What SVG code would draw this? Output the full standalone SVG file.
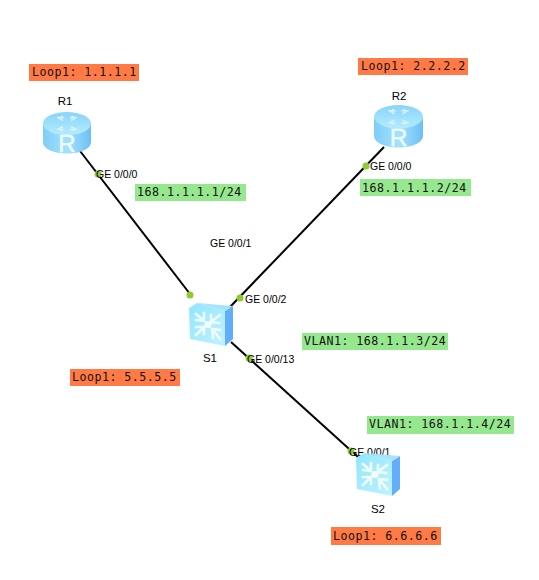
<svg xmlns="http://www.w3.org/2000/svg" width="539" height="580" viewBox="0 0 539 580">
<style>
.lbl{font-family:"Liberation Sans",Arial,sans-serif;font-size:10.5px;fill:#000}
.name{font-family:"Liberation Sans",Arial,sans-serif;font-size:11.5px;fill:#000}
.mono{font-family:"DejaVu Sans Mono","Liberation Mono",monospace;font-size:11.6px;fill:#111;letter-spacing:.5px}
.or{fill:#ff7a45}
.gr{fill:#96e88e}
.ln{stroke:#000;stroke-width:2;fill:none}
.dot{fill:#8ccc30}
</style>
<defs>
<linearGradient id="rb" x1="0" x2="1" y1="0" y2="0"><stop offset="0" stop-color="#7fcdf8"/><stop offset=".5" stop-color="#a4e2ff"/><stop offset="1" stop-color="#6cc0f4"/></linearGradient>
<linearGradient id="rt" x1="0" x2="0" y1="0" y2="1"><stop offset="0" stop-color="#88d4f8"/><stop offset="1" stop-color="#b4ecff"/></linearGradient>
<linearGradient id="sf" x1="0" x2="1" y1="0" y2="1"><stop offset="0" stop-color="#90e6fc"/><stop offset="1" stop-color="#c0f2ff"/></linearGradient>
<symbol id="router" viewBox="0 0 48 42" overflow="visible">
<path d="M0 12V30C0 37 11 41.5 24 41.5S48 37 48 30V12Z" fill="url(#rb)"/>
<ellipse cx="24" cy="11.5" rx="24" ry="11.5" fill="url(#rt)"/>
<g stroke="#d4f3ff" stroke-width="1.5" fill="none"><path d="M14 5.5h6l-2 -1.5M15 5.5l5 3M34 5.5h-6l2 -1.5M33 5.5l-5 3M14 17.5h6l-2 1.5M15 17.5l5 -3M34 17.5h-6l2 1.5M33 17.5l-5 -3"/></g>
<text x="24" y="40" text-anchor="middle" font-family="Liberation Sans,Arial,sans-serif" font-size="24" stroke="#f0fbff" stroke-width=".5" fill="#eefaff">R</text>
</symbol>
<symbol id="switch" viewBox="0 0 44 43" overflow="visible">
<path d="M36 8L44 3V36L36 43Z" fill="#62aefa"/>
<path d="M8 0L44 3L36 8Z" fill="#a4e4fc"/>
<path d="M0 5L8 0L36 8L36 43L1 36Z" fill="url(#sf)"/>
<g stroke="#effcff" stroke-width="2.6" fill="none" stroke-linecap="square"><path d="M7 11L14 17M15 10L15 18L7 17M31 12L23 18M22 12L22 19L30 20M7 32L14 25M7 24L15 24L15 31M31 36L24 27M24 35L23 26L31 27"/></g>
<circle cx="19" cy="21.5" r="3.6" fill="#f4fdff"/>
</symbol>
</defs>
<rect width="539" height="580" fill="#fff"/>
<g id="connectors">
<path class="ln" d="M80 151L190 294"/>
<path class="ln" d="M384 147L230 307"/>
<path class="ln" d="M231 342L358 457"/>
<circle class="dot" cx="98" cy="174" r="3.5"/>
<circle class="dot" cx="190" cy="295" r="3.5"/>
<circle class="dot" cx="366" cy="166" r="3.5"/>
<circle class="dot" cx="240" cy="298" r="3.5"/>
<circle class="dot" cx="249" cy="358" r="3.5"/>
<circle class="dot" cx="351" cy="451" r="3.5"/>
<text class="lbl" x="96" y="178">GE 0/0/0</text>
<text class="lbl" x="210" y="247">GE 0/0/1</text>
<text class="lbl" x="370" y="170">GE 0/0/0</text>
<text class="lbl" x="245" y="303">GE 0/0/2</text>
<text class="lbl" x="247" y="363">GE 0/0/13</text>
<text class="lbl" x="349" y="456">GE 0/0/1</text>
</g>
<g id="R1"><use href="#router" x="43" y="112" width="48" height="42"/><text class="name" x="65" y="105" text-anchor="middle">R1</text></g>
<g id="R2"><use href="#router" x="374" y="105" width="49" height="43"/><text class="name" x="399" y="100" text-anchor="middle">R2</text></g>
<g id="S1"><use href="#switch" x="189" y="303" width="44" height="43"/><text class="name" x="210" y="362" text-anchor="middle">S1</text></g>
<g id="S2"><use href="#switch" x="356" y="453" width="44" height="43"/><text class="name" x="378" y="513" text-anchor="middle">S2</text></g>
<g id="label-loop-r1"><rect class="or" x="29" y="64" width="110" height="17"/><text class="mono" x="32" y="76">Loop1: 1.1.1.1</text></g>
<g id="label-loop-r2"><rect class="or" x="358" y="58" width="110" height="17"/><text class="mono" x="361" y="70">Loop1: 2.2.2.2</text></g>
<g id="label-loop-s1"><rect class="or" x="70" y="369" width="110" height="17"/><text class="mono" x="72" y="381">Loop1: 5.5.5.5</text></g>
<g id="label-loop-s2"><rect class="or" x="331" y="527" width="110" height="18"/><text class="mono" x="333" y="540">Loop1: 6.6.6.6</text></g>
<g id="label-ip-r1"><rect class="gr" x="135" y="184" width="111" height="17"/><text class="mono" x="137" y="196">168.1.1.1.1/24</text></g>
<g id="label-ip-r2"><rect class="gr" x="360" y="179" width="111" height="17"/><text class="mono" x="362" y="192">168.1.1.1.2/24</text></g>
<g id="label-vlan-s1"><rect class="gr" x="302" y="333" width="146" height="17"/><text class="mono" x="304" y="345">VLAN1: 168.1.1.3/24</text></g>
<g id="label-vlan-s2"><rect class="gr" x="367" y="416" width="147" height="18"/><text class="mono" x="369" y="428">VLAN1: 168.1.1.4/24</text></g>
</svg>
